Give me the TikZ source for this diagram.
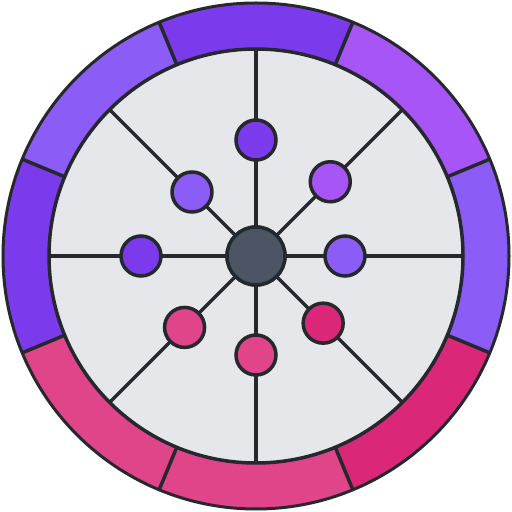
\documentclass[tikz,border=0pt]{standalone}
\begin{document}
\begin{tikzpicture}[x=1pt,y=1pt,
  ink/.style={draw=inkc,line width=3.5pt},
  dot/.style={circle,draw=inkc,line width=3.5pt,minimum size=40pt,inner sep=0pt},
  hub/.style={circle,draw=inkc,line width=3.5pt,fill=hubc,minimum size=58pt,inner sep=0pt}]
\definecolor{inkc}{HTML}{25282D}
\definecolor{diskc}{HTML}{E5E7EB}
\definecolor{hubc}{HTML}{4B5563}
\definecolor{vA}{HTML}{7C3AED}
\definecolor{vB}{HTML}{8B5CF6}
\definecolor{vC}{HTML}{A855F7}
\definecolor{pA}{HTML}{DB2777}
\definecolor{pB}{HTML}{E0458A}
\useasboundingbox (0,0) rectangle (512,512);
\begin{scope}[shift={(256,256)}]
  % ring segments
  \foreach \a/\c in {90/vA,45/vC,0/vB,-45/pA,-90/pB,-135/pB,180/vA,135/vB}{
    \fill[\c] (\a-22.5:253) arc[start angle=\a-22.5,end angle=\a+22.5,radius=253]
      -- (\a+22.5:207) arc[start angle=\a+22.5,end angle=\a-22.5,radius=207] -- cycle;
  }
  \foreach \a in {22.5,67.5,...,337.5}{
    \draw[ink] (\a:207) -- (\a:253);
  }
  \draw[ink,line width=3pt] (0,0) circle[radius=253];
  \draw[ink,fill=diskc] (0,0) circle[radius=207];
  \foreach \a [count=\i] in {0,45,...,315}{
    \coordinate (e\i) at (\a:207);
  }
  \node[hub] (c) at (0,0) {};
  \foreach \i in {1,...,8}{ \draw[ink] (c.center) -- (e\i); }
  \node[hub] at (c) {};
  \node[dot,fill=vA] (n1) at (90:116) {};
  \node[dot,fill=vC] (n2) at (45:105) {};
  \node[dot,fill=vB] (n3) at (0:89) {};
  \node[dot,fill=pA] (n4) at (-45:95) {};
  \node[dot,fill=pB] (n5) at (-90:99) {};
  \node[dot,fill=pB] (n6) at (-135:101) {};
  \node[dot,fill=vA] (n7) at (180:115) {};
  \node[dot,fill=vB] (n8) at (135:90.5) {};
\end{scope}
\end{tikzpicture}
\end{document}
